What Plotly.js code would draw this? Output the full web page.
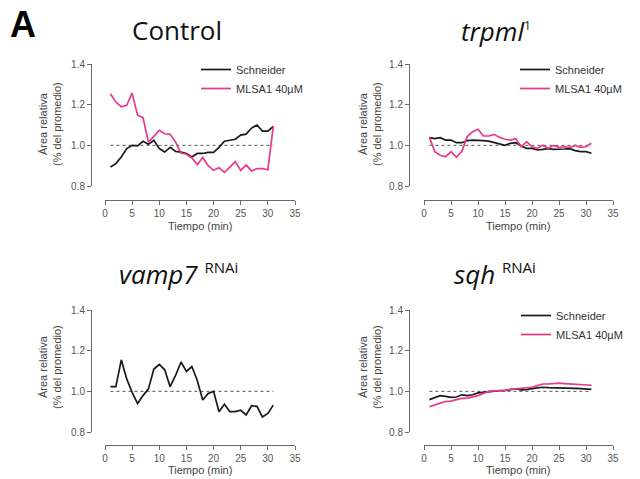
<!DOCTYPE html>
<html><head><meta charset="utf-8">
<script src="https://cdn.plot.ly/plotly-3.0.1.min.js"></script>
<style>html,body{margin:0;padding:0;background:#fff}#chart{width:640px;height:479px}</style>
</head><body><div id="chart"></div>
<script>
const minutes = [1,2,3,4,5,6,7,8,9,10,11,12,13,14,15,16,17,18,19,20,21,22,23,24,25,26,27,28,29,30,31];
const refX = [1, 31];
const refY = [1.0, 1.0];
const seriesNames = ['Schneider', 'MLSA1 40µM'];

const controlSchneider = [0.893,0.91,0.943,0.984,1.0,0.997,1.02,1.005,1.025,0.984,0.967,0.99,0.97,0.967,0.96,0.943,0.96,0.96,0.965,0.965,0.99,1.02,1.025,1.03,1.05,1.055,1.085,1.10,1.07,1.07,1.093];
const controlMLSA1 = [1.254,1.213,1.19,1.197,1.257,1.148,1.136,1.016,1.044,1.074,1.057,1.054,1.016,0.962,0.956,0.938,0.905,0.94,0.90,0.877,0.89,0.867,0.893,0.92,0.877,0.903,0.874,0.885,0.885,0.88,1.093];

const trpmlSchneider = [1.038,1.033,1.038,1.026,1.026,1.013,1.013,1.023,1.026,1.026,1.023,1.021,1.013,1.007,1.0,1.01,1.013,0.997,0.985,0.985,0.977,0.98,0.984,0.98,0.98,0.982,0.984,0.974,0.969,0.969,0.961];
const trpmlMLSA1 = [1.039,0.969,0.951,0.944,0.969,0.941,0.969,1.043,1.067,1.079,1.046,1.046,1.054,1.039,1.03,1.026,1.033,0.993,1.018,0.993,0.985,1.0,0.984,1.0,0.99,0.993,0.99,1.0,0.99,0.993,1.01];

const vamp7Schneider = [1.023,1.023,1.155,1.061,0.995,0.94,0.979,1.012,1.11,1.132,1.106,1.023,1.078,1.144,1.098,1.122,1.053,0.957,0.99,1.0,0.90,0.937,0.90,0.90,0.907,0.884,0.929,0.926,0.874,0.891,0.932];

const sqhSchneider = [0.959,0.97,0.979,0.975,0.97,0.972,0.983,0.979,0.983,0.992,0.995,1.0,1.0,1.003,1.005,1.01,1.012,1.007,1.008,1.013,1.017,1.02,1.018,1.018,1.018,1.018,1.018,1.015,1.013,1.01,1.01];
const sqhMLSA1 = [0.924,0.934,0.942,0.95,0.952,0.959,0.965,0.967,0.974,0.979,0.99,1.0,1.002,1.002,1.003,1.01,1.013,1.013,1.017,1.02,1.028,1.036,1.036,1.038,1.04,1.038,1.036,1.036,1.035,1.031,1.03];

const xTicks = [0,5,10,15,20,25,30,35];
const yTicks = [0.8,1.0,1.2,1.4];

const BLACK = '#1a1a1a', PINK = '#e8388c', AX = '#6b6b6b';
const W = 640, H = 479;
const px = v => v / W, py = v => 1 - v / H;

function refTrace(xa, ya) {
  return {x: refX, y: refY, xaxis: xa, yaxis: ya, mode: 'lines', showlegend: false,
    line: {color: '#555', width: 1, dash: 'dot'}, hoverinfo: 'skip'};
}
function line(xa, ya, y, name, color, legend, show) {
  return {x: minutes, y: y, xaxis: xa, yaxis: ya, mode: 'lines', name: name,
    legend: legend, showlegend: show, legendgroup: name + legend,
    line: {color: color, width: 1.7}};
}

const traces = [
  refTrace('x', 'y'),
  line('x', 'y', controlSchneider, seriesNames[0], BLACK, 'legend', true),
  line('x', 'y', controlMLSA1, seriesNames[1], PINK, 'legend', true),
  refTrace('x2', 'y2'),
  line('x2', 'y2', trpmlSchneider, seriesNames[0], BLACK, 'legend2', true),
  line('x2', 'y2', trpmlMLSA1, seriesNames[1], PINK, 'legend2', true),
  refTrace('x3', 'y3'),
  line('x3', 'y3', vamp7Schneider, seriesNames[0], BLACK, 'legend', false),
  refTrace('x4', 'y4'),
  line('x4', 'y4', sqhSchneider, seriesNames[0], BLACK, 'legend3', true),
  line('x4', 'y4', sqhMLSA1, seriesNames[1], PINK, 'legend3', true),
];

const tickFont = {family: 'Liberation Sans, Arial, sans-serif', size: 10, color: '#555'};
function xAxis(x0, x1, yPos) {
  return {domain: [px(x0), px(x1)], range: [0, 35], anchor: 'free', position: py(yPos),
    tickvals: xTicks, ticks: 'outside', ticklen: 4, tickcolor: AX, showline: true, linecolor: AX,
    linewidth: 1.2, showgrid: false, zeroline: false, tickfont: tickFont, fixedrange: true};
}
function yAxis(y0, y1, xPos) {
  return {domain: [py(y1), py(y0)], range: [0.8, 1.4], anchor: 'free', position: px(xPos),
    tickvals: yTicks, tickformat: '.1f', ticks: 'outside', ticklen: 4, tickcolor: AX, showline: true,
    linecolor: AX, linewidth: 1.2, showgrid: false, zeroline: false, tickfont: tickFont, fixedrange: true};
}

const labFont = {family: 'Liberation Sans, Arial, sans-serif', size: 11, color: '#444'};
const titleFont = {family: 'Open Sans, sans-serif', size: 26, color: '#111'};
function ann(text, x, y, font, extra) {
  return Object.assign({text: text, x: px(x), y: py(y), xref: 'paper', yref: 'paper',
    showarrow: false, xanchor: 'center', yanchor: 'middle', font: font}, extra || {});
}
const yTitle = 'Área relativa<br>(% del promedio)';
const xTitle = 'Tiempo (min)';
const sup = (t, s) => '<sup><span style="font-size:' + s + 'px">' + t + '</span></sup>';

const legFont = {family: 'Liberation Sans, Arial, sans-serif', size: 11, color: '#333'};
function leg(x, y) {
  return {x: px(x), y: py(y), xanchor: 'left', yanchor: 'top', font: legFont,
    bgcolor: 'rgba(0,0,0,0)', tracegroupgap: 0, traceorder: 'grouped'};
}

const layout = {
  width: W, height: H, margin: {l: 0, r: 0, t: 0, b: 0},
  paper_bgcolor: '#fff', plot_bgcolor: 'rgba(0,0,0,0)',
  xaxis: xAxis(105, 295, 200), yaxis: yAxis(64, 186, 91),
  xaxis2: xAxis(424, 613, 200), yaxis2: yAxis(64, 186, 409),
  xaxis3: xAxis(105, 295, 445), yaxis3: yAxis(310, 432, 91),
  xaxis4: xAxis(424, 613, 445), yaxis4: yAxis(310, 432, 409),
  legend: leg(196, 55), legend2: leg(515, 55), legend3: leg(516, 301),
  annotations: [
    ann('<b>A</b>', 23, 24, {family: 'Liberation Sans, Arial, sans-serif', size: 36, color: '#000'}),
    ann('Control', 177, 30, titleFont),
    ann('<i>trpml</i>' + sup('1', 12), 496, 31, titleFont),
    ann('<i>vamp7</i> ' + sup('RNAi', 15), 178, 274, titleFont),
    ann('<i>sqh</i> ' + sup('RNAi', 15), 495, 274, titleFont),
    ann(yTitle, 50, 124, labFont, {textangle: -90}),
    ann(yTitle, 370, 124, labFont, {textangle: -90}),
    ann(yTitle, 50, 367, labFont, {textangle: -90}),
    ann(yTitle, 370, 367, labFont, {textangle: -90}),
    ann(xTitle, 200, 226, labFont),
    ann(xTitle, 518, 226, labFont),
    ann(xTitle, 200, 470, labFont),
    ann(xTitle, 518, 470, labFont),
  ],
  showlegend: true,
};

Plotly.newPlot('chart', traces, layout, {staticPlot: true, displayModeBar: false});
</script>
</body></html>
